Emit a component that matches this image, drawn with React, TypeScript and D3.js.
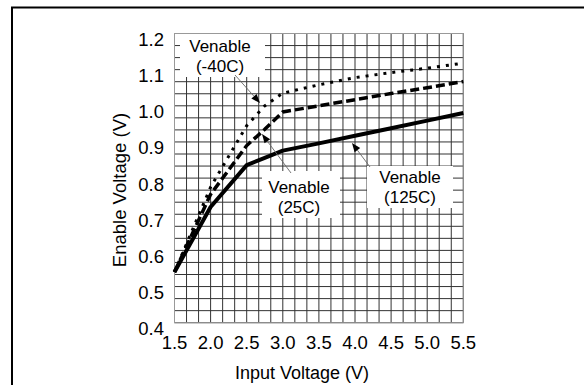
import React from "react";
import * as d3 from "d3";

const inputVoltage = [1.5, 2.0, 2.5, 2.75, 3.0, 3.5, 4.0, 4.5, 5.0, 5.5];
const venableM40 = [0.54, 0.775, 0.945, 1.0, 1.035, 1.058, 1.078, 1.092, 1.104, 1.118];
const venable25 = [0.54, 0.755, 0.89, 0.935, 0.983, 1.0, 1.017, 1.034, 1.05, 1.067];
const venable125 = [0.54, 0.72, 0.836, 0.856, 0.876, 0.896, 0.917, 0.938, 0.959, 0.98];
const xTicks = [1.5, 2.0, 2.5, 3.0, 3.5, 4.0, 4.5, 5.0, 5.5];
const yTicks = [0.4, 0.5, 0.6, 0.7, 0.8, 0.9, 1.0, 1.1, 1.2];
const labels = [
  { l1: "Venable", l2: "(-40C)" },
  { l1: "Venable", l2: "(25C)" },
  { l1: "Venable", l2: "(125C)" },
];

const W = 584, H = 385;
const PL = 174.5, PR = 463.3, PT = 33.5, PB = 322.7;

export default function App() {
  const x = d3.scaleLinear().domain([1.5, 5.5]).range([PL, PR]);
  const y = d3.scaleLinear().domain([0.4, 1.2]).range([PB, PT]);
  const line = d3
    .line<number>()
    .x((_, i) => x(inputVoltage[i]))
    .y((d) => y(d));
  const xGrid = d3.range(0, 25).map((i) => 1.5 + i / 6);
  const yGrid = d3.range(0, 25).map((i) => 0.4 + i / 30);
  const font = "'Liberation Sans', Arial, sans-serif";

  // annotation boxes (pixel layout)
  const boxes = [
    { x0: 180, x1: 265, y0: 34, y1: 77, cx: 220, t1: 46, t2: 66 },
    { x0: 262, x1: 340, y0: 171, y1: 218, cx: 299, t1: 187, t2: 207 },
    { x0: 367, x1: 453, y0: 166, y1: 208, cx: 410, t1: 177, t2: 197 },
  ];
  const arrows = [
    { x1: 235, y1: 75, x2: 260, y2: 103 },
    { x1: 291, y1: 173, x2: 262, y2: 134 },
    { x1: 370, y1: 167, x2: 352, y2: 143 },
  ];

  return (
    <svg
      width={W}
      height={H}
      style={{ position: "absolute", left: 0, top: 0, background: "#fff" }}
      fontFamily={font}
    >
      <rect x={0} y={0} width={W} height={H} fill="#fff" />
      {/* outer frame */}
      <path d={`M12,${H + 5} L12,7.5 L${W + 5},7.5`} fill="none" stroke="#000" strokeWidth={2} />
      {/* grid */}
      {xGrid.map((g, i) => (
        <line key={"gx" + i} x1={x(g)} x2={x(g)} y1={PT} y2={PB} stroke="#333" strokeWidth={1} />
      ))}
      {yGrid.map((g, i) => (
        <line key={"gy" + i} x1={PL} x2={PR} y1={y(g)} y2={y(g)} stroke="#333" strokeWidth={1} />
      ))}
      {/* annotation boxes */}
      {boxes.map((b, i) => (
        <rect key={"b" + i} x={b.x0} y={b.y0} width={b.x1 - b.x0} height={b.y1 - b.y0} fill="#fff" />
      ))}
      <rect x={PL} y={PT} width={PR - PL} height={PB - PT} fill="none" stroke="#999" strokeWidth={1} />
      {/* curves */}
      <path d={line(venable125) || ""} fill="none" stroke="#000" strokeWidth={4} strokeLinejoin="round" />
      <path d={line(venable25) || ""} fill="none" stroke="#000" strokeWidth={3.5} strokeDasharray="9,4" />
      <path d={line(venableM40) || ""} fill="none" stroke="#000" strokeWidth={3} strokeDasharray="3,6" />
      {/* arrows */}
      {arrows.map((a, i) => {
        const ang = Math.atan2(a.y2 - a.y1, a.x2 - a.x1);
        const L = 9, Wd = 3.5;
        const bx = a.x2 - L * Math.cos(ang), by = a.y2 - L * Math.sin(ang);
        const px = -Math.sin(ang) * Wd, py = Math.cos(ang) * Wd;
        return (
          <g key={"a" + i}>
            <line x1={a.x1} y1={a.y1} x2={bx} y2={by} stroke="#666" strokeWidth={0.9} />
            <path d={`M${a.x2},${a.y2} L${bx + px},${by + py} L${bx - px},${by - py} Z`} fill="#000" />
          </g>
        );
      })}
      {/* annotation text */}
      {boxes.map((b, i) => (
        <g key={"t" + i} fontSize={17} textAnchor="middle" fill="#000">
          <text x={b.cx} y={b.t1} dominantBaseline="central">{labels[i].l1}</text>
          <text x={b.cx} y={b.t2} dominantBaseline="central">{labels[i].l2}</text>
        </g>
      ))}
      {/* y tick labels */}
      {yTicks.map((t) => (
        <text key={"yt" + t} x={164} y={y(t) + 6} textAnchor="end" dominantBaseline="central" fontSize={18.5}>
          {t.toFixed(1)}
        </text>
      ))}
      {/* x tick labels */}
      {xTicks.map((t) => (
        <text key={"xt" + t} x={x(t)} y={342} textAnchor="middle" dominantBaseline="central" fontSize={18.5}>
          {t.toFixed(1)}
        </text>
      ))}
      <text x={302} y={373} textAnchor="middle" dominantBaseline="central" fontSize={18}>
        Input Voltage (V)
      </text>
      <text
        transform={`translate(119,190) rotate(-90)`}
        textAnchor="middle"
        dominantBaseline="central"
        fontSize={18.5}
      >
        Enable Voltage (V)
      </text>
    </svg>
  );
}
